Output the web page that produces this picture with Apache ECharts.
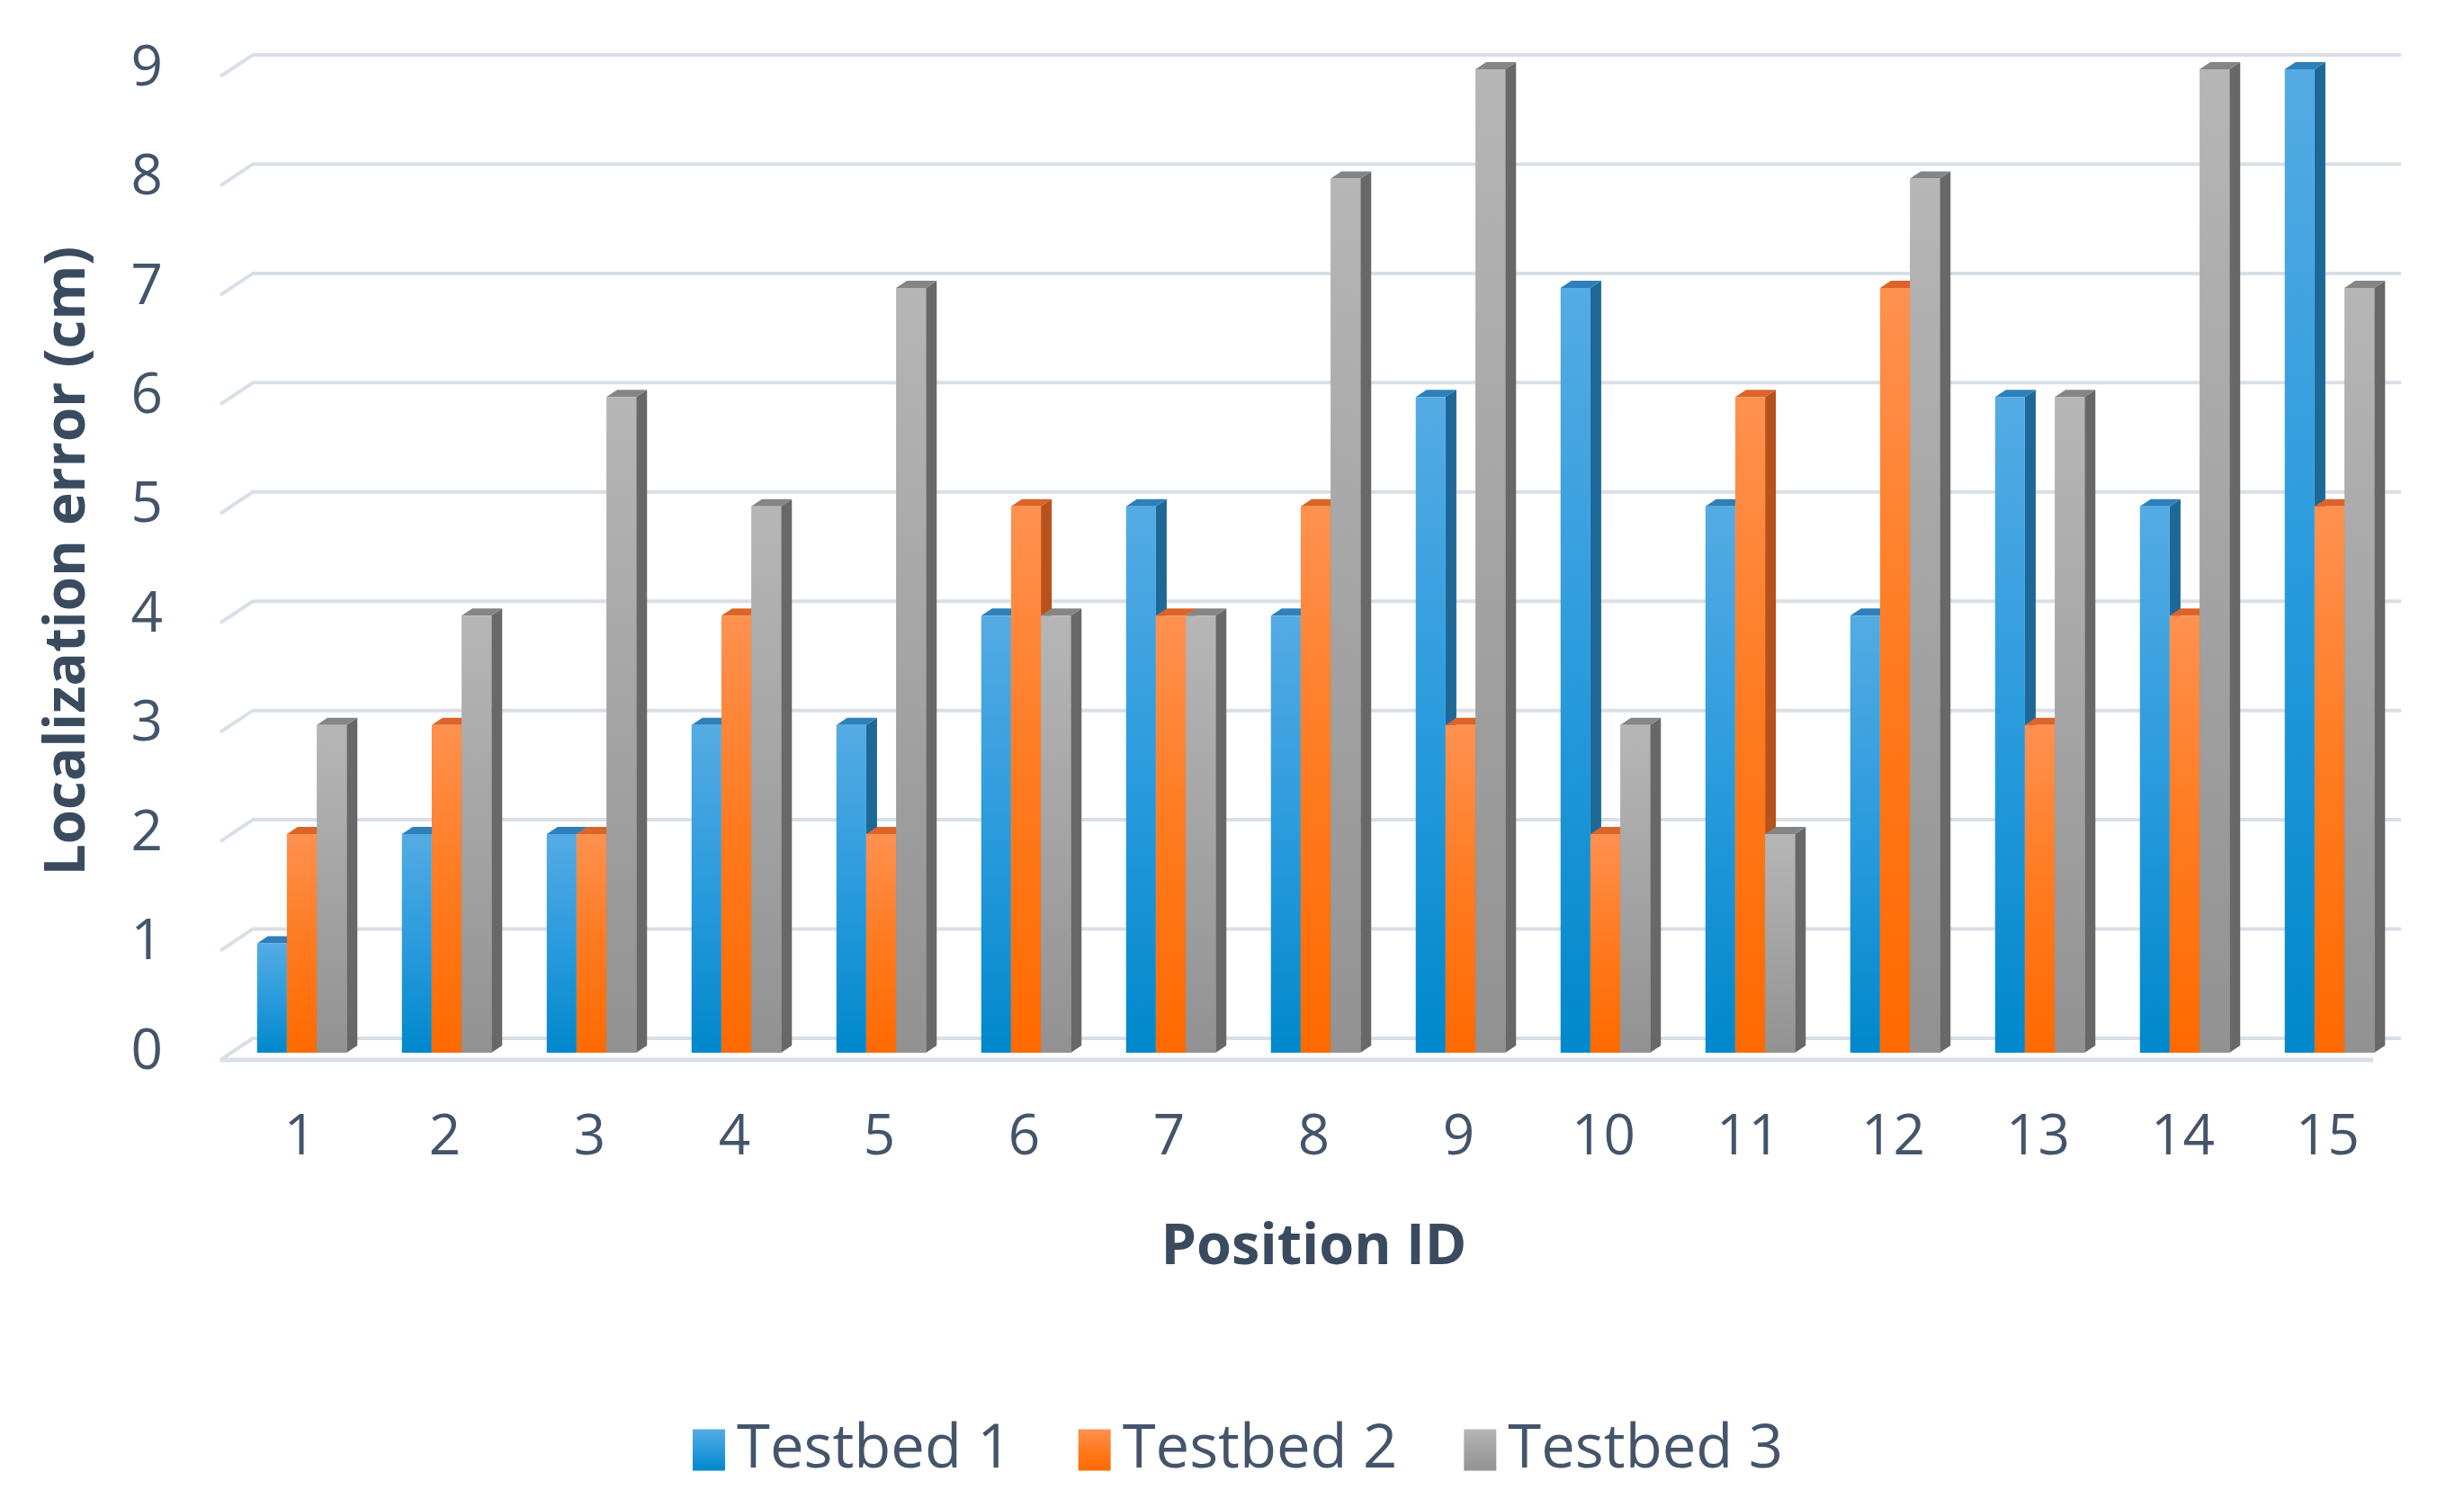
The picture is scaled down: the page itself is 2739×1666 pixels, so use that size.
<!DOCTYPE html>
<html>
<head>
<meta charset="utf-8">
<script src="https://cdn.jsdelivr.net/npm/echarts@6/dist/echarts.min.js"></script>
<style>
html,body{margin:0;padding:0;background:#fff;}
#chart{width:2739px;height:1666px;}
</style>
</head>
<body>
<div id="chart"></div>
<script>
const categories = ['1','2','3','4','5','6','7','8','9','10','11','12','13','14','15'];
const testbed1 = [1,2,2,3,3,4,5,4,6,7,5,4,6,5,9];
const testbed2 = [2,3,2,4,2,5,4,5,3,2,6,7,3,4,5];
const testbed3 = [3,4,6,5,7,4,4,8,9,3,2,8,6,9,7];
const yTicks = [0,1,2,3,4,5,6,7,8,9];
const seriesNames = ['Testbed 1','Testbed 2','Testbed 3'];

const TEXT = '#44546A';
const TITLE = '#3A4B60';
const GRIDC = '#D9DFE7';

const palettes = [
  {front:['#55ABE3','#2A9BDD','#0088CC'], side:'#1E6898', top:'#2D80BA'},
  {front:['#FF9150','#FF7A1F','#FF6A00'], side:'#B8521C', top:'#DC6428'},
  {front:['#B6B6B6','#A4A4A4','#929292'], side:'#686868', top:'#858585'}
];

function grad(stops){
  return {type:'linear',x:0,y:0,x2:0,y2:1,colorStops:[
    {offset:0,color:stops[0]},{offset:0.5,color:stops[1]},{offset:1,color:stops[2]}]};
}

const BDX = 12, BDY = 8;      // bar depth offsets
const WDX = 36, WDY = 24;     // wall depth offsets
const WALL_UP = 16;           // back wall above bar front mapping

function barRender(j){
  return function(params, api){
    const idx = api.value(0), val = api.value(1);
    const base = api.coord([idx, 0]);
    const top = api.coord([idx, val]);
    const band = api.size([1,0])[0];
    const w = band*0.206;
    const x0 = base[0] - 1.5*w + j*w + 2;
    const yt = top[1], yb = base[1];
    const p = palettes[j];
    return {type:'group', children:[
      {type:'polygon', shape:{points:[[x0+w,yt],[x0+w+BDX,yt-BDY],[x0+w+BDX,yb-BDY],[x0+w,yb]]},
        style:{fill:p.side}},
      {type:'polygon', shape:{points:[[x0,yt],[x0+BDX,yt-BDY],[x0+w+BDX,yt-BDY],[x0+w,yt]]},
        style:{fill:p.top}},
      {type:'rect', shape:{x:x0, y:yt, width:w, height:yb-yt},
        style:{fill:grad(p.front)}}
    ]};
  };
}

function gridRender(params, api){
  const v = api.value(1);
  const cs = params.coordSys;
  const yb = api.coord([0, v])[1] - WALL_UP;
  const xl = cs.x - 8;
  const children = [{type:'polyline', shape:{points:[[xl, yb+WDY],[xl+WDX, yb],[cs.x+cs.width+1, yb]]},
    style:{stroke:GRIDC, lineWidth:4, fill:null}}];
  if (v === 0){
    children.push({type:'line', shape:{x1:xl, y1:yb+WDY, x2:cs.x+cs.width-30, y2:yb+WDY},
      style:{stroke:GRIDC, lineWidth:5}});
  }
  return {type:'group', children};
}

const chart = echarts.init(document.getElementById('chart'));
const dataSets = [testbed1, testbed2, testbed3];
const series = [{
  type:'custom', name:'grid', silent:true, z:1,
  renderItem: gridRender,
  data: yTicks.map(v => [0, v])
}];
dataSets.forEach((d, j) => {
  series.push({
    type:'custom', name:seriesNames[j], z:2+j,
    renderItem: barRender(j),
    itemStyle:{color: grad(palettes[j].front)},
    data: d.map((v,i) => [i, v])
  });
});

chart.setOption({
  animation:false,
  backgroundColor:'#fff',
  textStyle:{fontFamily:'Open Sans'},
  grid:{left:253, right:71, top:77, bottom:496},
  legend:{
    data: seriesNames, left:765, top:1573,
    icon:'rect', itemWidth:36, itemHeight:46, itemGap:74,
    textStyle:{fontSize:67, color:TEXT, fontFamily:'Open Sans', padding:[0,0,0,8]}
  },
  xAxis:{
    type:'category', data:categories,
    axisLine:{show:false}, axisTick:{show:false},
    axisLabel:{fontSize:62, color:TEXT, margin:64},
    name:'Position ID', nameLocation:'middle', nameGap:186,
    nameTextStyle:{fontSize:63, fontWeight:'bold', color:TITLE}
  },
  yAxis:{
    type:'value', min:0, max:9, interval:1,
    splitLine:{show:false}, axisLine:{show:false}, axisTick:{show:false},
    axisLabel:{fontSize:62, color:TEXT, margin:72},
    name:'Localization error (cm)', nameLocation:'middle', nameGap:146,
    nameTextStyle:{fontSize:62, fontWeight:'bold', color:TITLE}
  },
  series
});
</script>
</body>
</html>
